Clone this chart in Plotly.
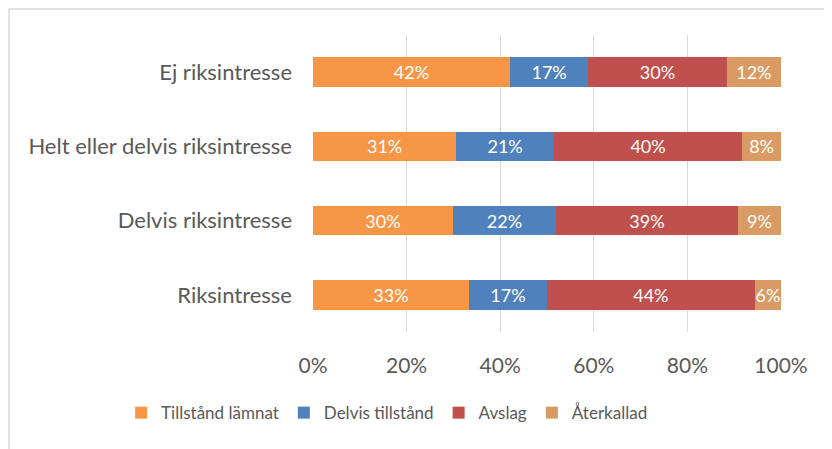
import plotly.graph_objects as go

categories = ["Riksintresse", "Delvis riksintresse", "Helt eller delvis riksintresse", "Ej riksintresse"]
series_names = ["Tillstånd lämnat", "Delvis tillstånd", "Avslag", "Återkallad"]
tillstand = [33.3, 29.9, 30.6, 42.1]
delvis = [16.7, 22.0, 20.9, 16.7]
avslag = [44.4, 38.9, 40.2, 29.6]
aterkallad = [5.6, 9.2, 8.3, 11.6]
tick_vals = [0, 20, 40, 60, 80, 100]
tick_text = ["0%", "20%", "40%", "60%", "80%", "100%"]

colors = ["#F79646", "#4F81BD", "#C0504D", "#D99A63"]
FONT = "Lato"

fig = go.Figure()
for name, vals, col in zip(series_names, [tillstand, delvis, avslag, aterkallad], colors):
    fig.add_trace(go.Bar(
        y=categories, x=vals, name=name, orientation="h",
        marker=dict(color=col, line=dict(width=0)),
        texttemplate="%{x:.0f}%", textposition="inside", insidetextanchor="middle",
        textangle=0, constraintext="none",
        textfont=dict(color="white", size=18, family=FONT),
        width=0.4,
    ))

fig.update_layout(
    barmode="stack",
    width=824, height=441,
    margin=dict(l=305, r=51, t=27, b=117),
    paper_bgcolor="white", plot_bgcolor="white",
    font=dict(family=FONT, color="#595959"),
    legend=dict(orientation="h", x=-0.41, xanchor="left",
                y=-0.273, yanchor="middle",
                font=dict(size=17, color="#595959", family=FONT), traceorder="normal",
                itemwidth=30),
    xaxis=dict(range=[0, 100], tickvals=tick_vals, ticktext=tick_text, showgrid=True,
               gridcolor="#D9D9D9", gridwidth=1, zeroline=False, showline=False,
               tickfont=dict(size=21, color="#595959", family=FONT), ticks="",
               ticklabelstandoff=19, fixedrange=True),
    yaxis=dict(showgrid=False, zeroline=False, showline=False, ticks="",
               tickfont=dict(size=22, color="#595959", family=FONT), ticklabelstandoff=20,
               categoryorder="array", categoryarray=categories),
    shapes=[dict(type="rect", xref="paper", yref="paper", x0=-0.6496, x1=1.2, y0=-0.5, y1=1.0875,
                 line=dict(color="#D9D9D9", width=1.5), fillcolor="rgba(0,0,0,0)", layer="below")],
    showlegend=True,
)
fig.write_html("out.html")
